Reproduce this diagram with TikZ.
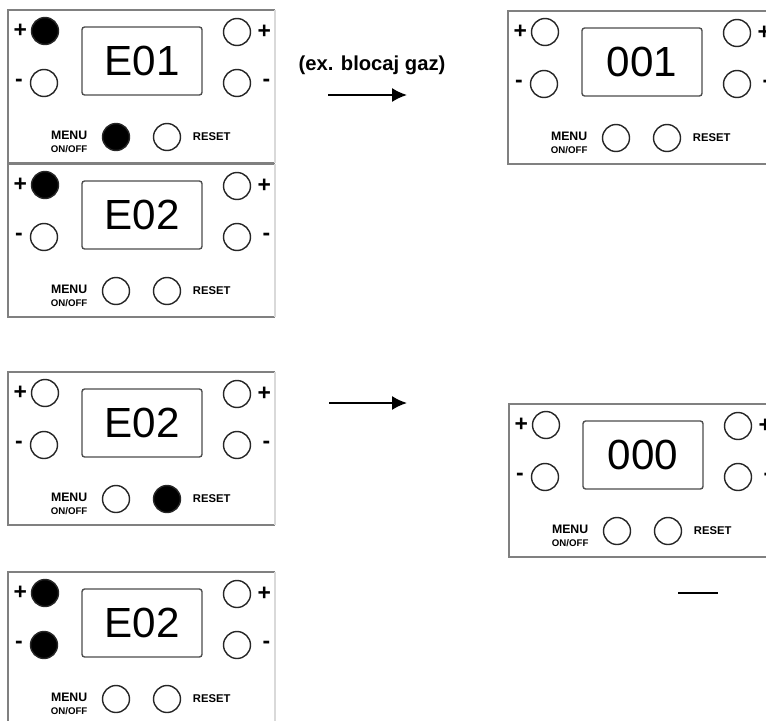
\documentclass[tikz,border=0pt]{standalone}
\usepackage{fontspec}
\setmainfont{Liberation Sans}
\usetikzlibrary{arrows.meta, positioning}

% one control panel: name, top-left corner, display text, fills of +, -, MENU, RESET
\newcommand{\ctrlpanel}[7]{%
  \begin{scope}[shift={#2}]
    \draw[frame] (267,0) -- (0,0) -- (0,153) -- (267,153);
    \draw[frame, draw=black!15] (267,0) -- (267,153);
    \node[display] (#1) at (134,51) {#3};
    \node[btn=#4] (#1-lp) at (37,21) {};
    \node[btn=#5] (#1-lm) at (36,73) {};
    \node[btn=white] (#1-rp) at (229,22) {};
    \node[btn=white] (#1-rm) at (229,73) {};
    \node[btn=#6] (#1-menu) at (108,127) {};
    \node[btn=#7] (#1-reset) at (159,127) {};
    \node[sign, left=2pt of #1-lp] {+};
    \node[sign, left=3.8pt of #1-lm] {-};
    \node[sign, right=3.4pt of #1-rp] {+};
    \node[sign, right=6.3pt of #1-rm] {-};
    \node[menulbl, left=8pt of #1-menu, yshift=-2.5pt] {MENU\\{\fontsize{5.5}{7.4}\selectfont ON/OFF}};
    \node[resetlbl, right=6.5pt of #1-reset] {RESET};
  \end{scope}}

\begin{document}
\begin{tikzpicture}[
    x=0.02cm, y=-0.02cm,
    frame/.style={draw=black!50, line width=0.85pt},
    display/.style={rectangle, draw=black!70, line width=0.8pt, rounded corners=1.5pt, minimum width=2.4cm, minimum height=1.36cm, inner sep=0pt, font=\fontsize{24}{24}\selectfont},
    btn/.style={circle, draw=black!85, line width=0.8pt, fill=#1, minimum size=0.54cm, inner sep=0pt},
    sign/.style={inner sep=0pt, font=\bfseries\fontsize{13}{13}\selectfont},
    menulbl/.style={inner sep=0pt, align=center, font=\bfseries\fontsize{7}{7.4}\selectfont},
    resetlbl/.style={inner sep=0pt, font=\bfseries\fontsize{6.4}{7}\selectfont},
    arrow/.style={-{Latex[length=8.5pt, width=8pt]}, line width=1.1pt}
]
\clip (0,0) rectangle (766,720);

% Panels
\ctrlpanel{errA}{(8,10)}{E01}{black}{white}{black}{white}
\ctrlpanel{errB}{(8,164)}{E02}{black}{white}{white}{white}
\ctrlpanel{errC}{(8,372)}{E02}{white}{white}{white}{black}
\ctrlpanel{errD}{(8,572)}{E02}{black}{black}{white}{white}
\ctrlpanel{codeA}{(508,11)}{001}{white}{white}{white}{white}
\ctrlpanel{codeB}{(509,404)}{000}{white}{white}{white}{white}

% Arrows
\coordinate (a1s) at (328,95);
\coordinate (a1e) at (407,95);
\coordinate (a2s) at (329,403);
\coordinate (a2e) at (407,403);
\draw[arrow] (a1s) -- (a1e);
\draw[arrow] (a2s) -- (a2e);
\node[font=\bfseries\fontsize{11.5}{12}\selectfont] (gaz) at (372,65) {(ex. blocaj gaz)};

% short bar
\coordinate (b1) at (678,593);
\coordinate (b2) at (718,593);
\draw[line width=1.1pt] (b1) -- (b2);

\end{tikzpicture}
\end{document}
